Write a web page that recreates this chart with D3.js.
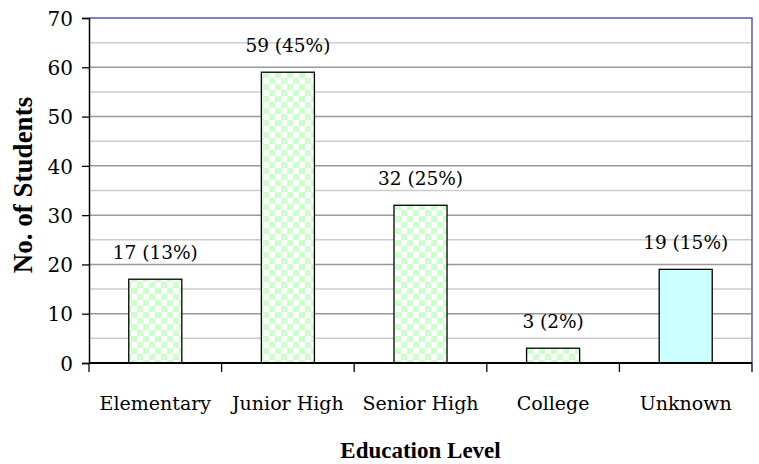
<!DOCTYPE html>
<html>
<head>
<meta charset="utf-8">
<script src="https://cdn.jsdelivr.net/npm/d3@7"></script>
<style>
  body { margin: 0; background: #fff; }
  text { font-family: "DejaVu Serif", serif; fill: #000; }
</style>
</head>
<body>
<div id="chart"></div>
<script>
const levels = ['Elementary', 'Junior High', 'Senior High', 'College', 'Unknown'];
const students = [17, 59, 32, 3, 19];
const percents = ['13%', '45%', '25%', '2%', '15%'];
const yTicks = [0, 10, 20, 30, 40, 50, 60, 70];

const width = 759, height = 464;
const margin = { top: 18, right: 7, bottom: 101, left: 89 };
const w = width - margin.left - margin.right;
const h = height - margin.top - margin.bottom;
const serif = '"DejaVu Serif", serif';
const boldSerif = '"Liberation Serif", "DejaVu Serif", serif';

const svg = d3.select('#chart').append('svg')
    .attr('width', width)
    .attr('height', height);

const defs = svg.append('defs');
const pat = defs.append('pattern')
    .attr('id', 'checker')
    .attr('patternUnits', 'userSpaceOnUse')
    .attr('width', 12)
    .attr('height', 12);
pat.append('rect').attr('width', 12).attr('height', 12).attr('fill', '#ffffff');
pat.append('rect').attr('width', 6).attr('height', 6).attr('fill', '#ccffcc');
pat.append('rect').attr('x', 6).attr('y', 6).attr('width', 6).attr('height', 6).attr('fill', '#ccffcc');

const g = svg.append('g')
    .attr('transform', `translate(${margin.left},${margin.top})`);

const x = d3.scaleBand()
    .domain(levels)
    .range([0, w])
    .paddingInner(0.6)
    .paddingOuter(0.3);

const y = d3.scaleLinear()
    .domain([0, 70])
    .range([h, 0]);

// gridlines: minor every 5, major every 10
g.append('g')
    .selectAll('line')
    .data(d3.range(5, 70, 10))
    .enter().append('line')
    .attr('x1', 0).attr('x2', w)
    .attr('y1', d => y(d)).attr('y2', d => y(d))
    .attr('stroke', '#cccccc')
    .attr('stroke-width', 1.5);
g.append('g')
    .selectAll('line')
    .data(yTicks.filter(d => d > 0 && d < 70))
    .enter().append('line')
    .attr('x1', 0).attr('x2', w)
    .attr('y1', d => y(d)).attr('y2', d => y(d))
    .attr('stroke', '#999999')
    .attr('stroke-width', 1.5);

// top / right border
g.append('path')
    .attr('d', `M0,${y(70)}H${w}V${h}`)
    .attr('fill', 'none')
    .attr('stroke', '#5555bb')
    .attr('stroke-width', 1.5);

// bars
g.selectAll('.bar')
    .data(levels)
    .enter().append('rect')
    .attr('class', 'bar')
    .attr('x', d => x(d))
    .attr('y', (d, i) => y(students[i]))
    .attr('width', x.bandwidth())
    .attr('height', (d, i) => h - y(students[i]))
    .attr('fill', d => d === 'Unknown' ? '#ccffff' : 'url(#checker)')
    .attr('stroke', '#000')
    .attr('stroke-width', 1.3);

// value labels
g.selectAll('.value')
    .data(levels)
    .enter().append('text')
    .attr('class', 'value')
    .attr('x', d => x(d) + x.bandwidth() / 2)
    .attr('y', (d, i) => y(students[i]) - 20)
    .attr('text-anchor', 'middle')
    .style('font-family', serif)
    .style('font-size', '18.5px')
    .text((d, i) => `${students[i]} (${percents[i]})`);

// y axis
const yAxis = g.append('g')
    .call(d3.axisLeft(y).tickValues(yTicks).tickSize(7).tickPadding(9).tickFormat(d3.format('d')));
yAxis.select('.domain').attr('stroke', '#000').attr('stroke-width', 1.5);
yAxis.selectAll('.tick line').attr('stroke', '#000').attr('stroke-width', 1.3);
yAxis.selectAll('.tick text')
    .attr('dy', '0.36em')
    .style('font-size', '20px')
    .style('font-family', serif);

// x axis: baseline with ticks at category boundaries
g.append('line')
    .attr('x1', 0).attr('x2', w)
    .attr('y1', h).attr('y2', h)
    .attr('stroke', '#000')
    .attr('stroke-width', 2);
const step = x.step();
g.append('g')
    .selectAll('line')
    .data(d3.range(levels.length + 1))
    .enter().append('line')
    .attr('x1', i => i * step).attr('x2', i => i * step)
    .attr('y1', h).attr('y2', h + 9)
    .attr('stroke', '#000')
    .attr('stroke-width', 1.3);
g.selectAll('.xlabel')
    .data(levels)
    .enter().append('text')
    .attr('class', 'xlabel')
    .attr('x', d => x(d) + x.bandwidth() / 2)
    .attr('y', h + 47)
    .attr('text-anchor', 'middle')
    .style('font-family', serif)
    .style('font-size', '19px')
    .text(d => d);

// axis titles
svg.append('text')
    .attr('x', margin.left + w / 2)
    .attr('y', 458)
    .attr('text-anchor', 'middle')
    .style('font-family', boldSerif)
    .style('font-size', '23px')
    .style('font-weight', 'bold')
    .text('Education Level');

svg.append('text')
    .attr('transform', `translate(32,185) rotate(-90)`)
    .attr('text-anchor', 'middle')
    .style('font-family', boldSerif)
    .style('font-size', '27px')
    .style('font-weight', 'bold')
    .text('No. of Students');
</script>
</body>
</html>
